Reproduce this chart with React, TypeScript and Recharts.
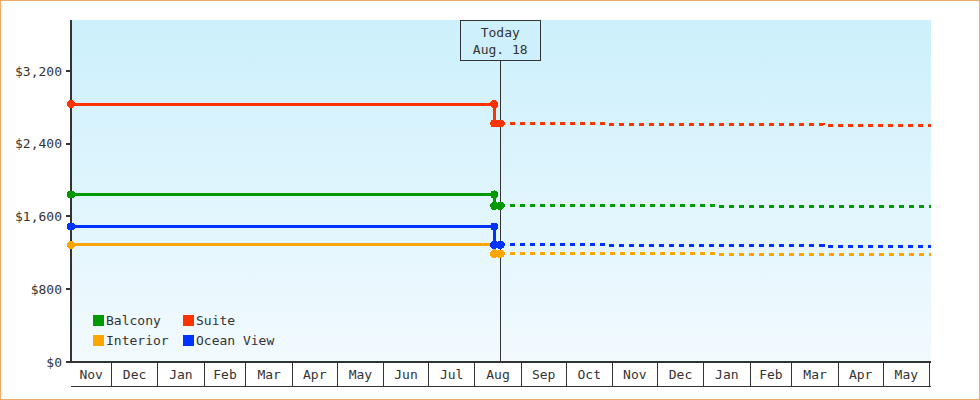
import React from 'react';
import { LineChart, Line, XAxis, YAxis, CartesianGrid, ReferenceLine, Legend } from 'recharts';

const FONT = '"DejaVu Sans Mono", monospace';
const INK = '#333333';

// x values are day indices, day 0 = Nov 1 of the first year
const domainStart = 3;
const domainEnd = 578;
const monthLabels = ['Nov', 'Dec', 'Jan', 'Feb', 'Mar', 'Apr', 'May', 'Jun', 'Jul', 'Aug', 'Sep', 'Oct', 'Nov', 'Dec', 'Jan', 'Feb', 'Mar', 'Apr', 'May'];
const monthBounds = [3, 30, 61, 92, 120, 151, 181, 212, 242, 273, 304, 334, 365, 395, 426, 457, 485, 516, 546, 577];
const yTicks = [0, 800, 1600, 2400, 3200];
const yMax = 3760;

const todayDay = 290;
const todayText = ['Today', 'Aug. 18'];

const seriesNames = ['Balcony', 'Suite', 'Interior', 'Ocean View'];
const seriesColors = ['#009900', '#ff3300', '#ffa500', '#0033ff'];

// price history (solid)
const historyDays = [3, 286, 286];
const balconyHistory = [1842, 1842, 1717];
const suiteHistory = [2835, 2835, 2622];
const interiorHistory = [1287, 1287, 1188];
const oceanHistory = [1489, 1489, 1287];

// price forecast (dashed)
const balconyForecastDays = [290, 435, 578];
const balconyForecast = [1717, 1706, 1706];
const suiteForecastDays = [290, 362, 506, 578];
const suiteForecast = [2622, 2611, 2600, 2600];
const interiorForecastDays = [290, 435, 578];
const interiorForecast = [1188, 1177, 1177];
const oceanForecastDays = [290, 362, 506, 578];
const oceanForecast = [1287, 1276, 1265, 1265];

const zip = (days: number[], vals: number[]) => days.map((d, i) => ({ d, v: vals[i] }));

const histories = [balconyHistory, suiteHistory, interiorHistory, oceanHistory].map((h) => zip(historyDays, h));
const forecasts = [
  zip(balconyForecastDays, balconyForecast),
  zip(suiteForecastDays, suiteForecast),
  zip(interiorForecastDays, interiorForecast),
  zip(oceanForecastDays, oceanForecast),
];

const labelTicks = monthLabels.map((_, i) => (monthBounds[i] + monthBounds[i + 1]) / 2);
const sepTicks = monthBounds.slice(1);

const fmtMoney = (v: number) => '$' + v.toLocaleString('en-US');

const firstDot = (color: string) => (props: any) => {
  const { cx, cy, index } = props;
  if (index !== 0 || cx == null) return <g key={`d${index}`} />;
  return <circle key={`d${index}`} cx={cx} cy={cy} r={4} fill={color} stroke="none" />;
};

const MonthTick = (props: any) => {
  const { x, y, index } = props;
  return (
    <text x={x} y={y} dy={-7} textAnchor="middle" fontFamily={FONT} fontSize={13} fill={INK}>
      {monthLabels[index]}
    </text>
  );
};

const TodayBox = (props: any) => {
  const { viewBox } = props;
  const x = viewBox.x;
  const y = viewBox.y;
  return (
    <g>
      <rect x={x - 40} y={y} width={80} height={40} fill="#cef0fc" stroke={INK} strokeWidth={1} />
      <text x={x} y={y + 17} textAnchor="middle" fontFamily={FONT} fontSize={13} fill={INK}>{todayText[0]}</text>
      <text x={x} y={y + 34} textAnchor="middle" fontFamily={FONT} fontSize={13} fill={INK}>{todayText[1]}</text>
    </g>
  );
};

const LegendContent = () => (
  <div style={{ display: 'grid', gridTemplateColumns: '90px 110px', fontFamily: FONT, fontSize: 13, color: INK }}>
    {seriesNames.map((n, i) => (
      <div key={n} style={{ display: 'flex', alignItems: 'center', height: 20 }}>
        <span style={{ display: 'inline-block', width: 11, height: 11, background: seriesColors[i], marginRight: 2 }} />
        <span>{n}</span>
      </div>
    ))}
  </div>
);

export default function App() {
  return (
    <div
      style={{
        position: 'fixed',
        left: 0,
        top: 0,
        width: 980,
        height: 400,
        boxSizing: 'border-box',
        border: '1px solid #efaa66',
        background: '#ffffff',
      }}
    >
      <LineChart
        width={978}
        height={398}
        margin={{ top: 19, right: 48, bottom: 12, left: 0 }}
        style={{ shapeRendering: 'crispEdges' }}
      >
        <defs>
          <linearGradient id="plotBg" x1="0" y1="0" x2="0" y2="1">
            <stop offset="0%" stopColor="#ccf0fc" />
            <stop offset="100%" stopColor="#f2fafe" />
          </linearGradient>
        </defs>
        <CartesianGrid fill="url(#plotBg)" horizontal={false} vertical={false} stroke="none" />
        <XAxis
          xAxisId="b"
          type="number"
          dataKey="d"
          domain={[domainStart, domainEnd]}
          allowDataOverflow
          ticks={labelTicks}
          interval={0}
          height={1}
          tickSize={0}
          tickMargin={0}
          tickLine={false}
          tick={<MonthTick />}
          axisLine={{ stroke: INK, strokeWidth: 1 }}
        />
        <XAxis
          xAxisId="a"
          type="number"
          dataKey="d"
          domain={[domainStart, domainEnd]}
          ticks={sepTicks}
          interval={0}
          height={24}
          tickSize={24}
          tick={() => <g />}
          axisLine={{ stroke: INK, strokeWidth: 2 }}
          tickLine={{ stroke: INK, strokeWidth: 1 }}
        />
        <YAxis
          type="number"
          domain={[0, yMax]}
          ticks={yTicks}
          width={70}
          tickSize={5}
          tickMargin={4}
          tickFormatter={fmtMoney}
          tick={{ fill: INK, fontFamily: FONT, fontSize: 13 }}
          axisLine={{ stroke: INK, strokeWidth: 2 }}
          tickLine={{ stroke: INK, strokeWidth: 2 }}
        />
        {histories.map((data, i) => (
          <Line
            key={`h${i}`}
            xAxisId="a"
            data={data}
            dataKey="v"
            type="linear"
            stroke={seriesColors[i]}
            strokeWidth={3}
            dot={{ r: 4, fill: seriesColors[i], stroke: 'none' }}
            activeDot={false}
            isAnimationActive={false}
            legendType="none"
          />
        ))}
        {forecasts.map((data, i) => (
          <Line
            key={`f${i}`}
            xAxisId="a"
            data={data}
            dataKey="v"
            type="stepAfter"
            stroke={seriesColors[i]}
            strokeWidth={3}
            strokeDasharray="5 5"
            dot={firstDot(seriesColors[i])}
            activeDot={false}
            isAnimationActive={false}
            legendType="none"
          />
        ))}
        <ReferenceLine xAxisId="a" x={todayDay} stroke={INK} strokeWidth={1} label={<TodayBox />} />
        <Legend
          layout="vertical"
          verticalAlign="middle"
          align="center"
          content={<LegendContent />}
          wrapperStyle={{ left: 92, top: 309, width: 220, height: 40 }}
        />
      </LineChart>
    </div>
  );
}
